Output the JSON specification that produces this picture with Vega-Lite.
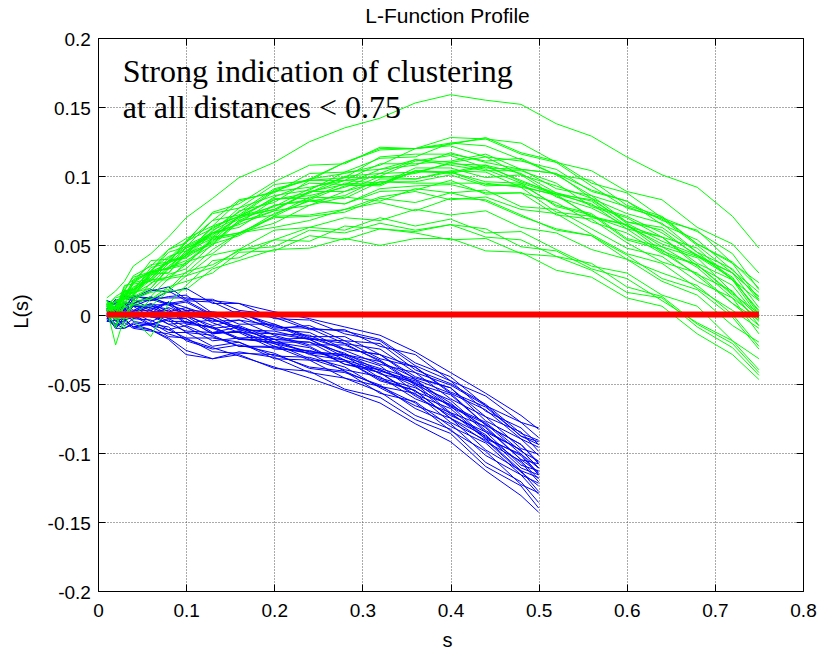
{
"$schema": "https://vega.github.io/schema/vega-lite/v6.json",
"width": 705,
"height": 553,
"autosize": {"type": "none"},
"padding": {"left": 98, "top": 38, "right": 17, "bottom": 58},
"background": "white",
"config": {"view": {"stroke": null}},
"datasets": {
"g": [
{"k":1,"s":0.01,"v":0.012},{"k":1,"s":0.02,"v":0.017},{"k":1,"s":0.03,"v":0.024},{"k":1,"s":0.04,"v":0.035},{"k":1,"s":0.06,"v":0.044},{"k":1,"s":0.08,"v":0.056},{"k":1,"s":0.1,"v":0.07},{"k":1,"s":0.13,"v":0.084},{"k":1,"s":0.16,"v":0.099},{"k":1,"s":0.2,"v":0.11},{"k":1,"s":0.24,"v":0.125},{"k":1,"s":0.28,"v":0.135},{"k":1,"s":0.32,"v":0.142},{"k":1,"s":0.36,"v":0.153},{"k":1,"s":0.4,"v":0.159},{"k":1,"s":0.44,"v":0.155},{"k":1,"s":0.48,"v":0.152},{"k":1,"s":0.52,"v":0.138},{"k":1,"s":0.56,"v":0.129},{"k":1,"s":0.6,"v":0.114},{"k":1,"s":0.64,"v":0.101},{"k":1,"s":0.68,"v":0.092},{"k":1,"s":0.72,"v":0.071},{"k":1,"s":0.75,"v":0.048},
{"k":2,"s":0.01,"v":0.01},{"k":2,"s":0.02,"v":0.004},{"k":2,"s":0.03,"v":0.021},{"k":2,"s":0.04,"v":0.022},{"k":2,"s":0.06,"v":0.039},{"k":2,"s":0.08,"v":0.04},{"k":2,"s":0.1,"v":0.053},{"k":2,"s":0.13,"v":0.073},{"k":2,"s":0.16,"v":0.077},{"k":2,"s":0.2,"v":0.094},{"k":2,"s":0.24,"v":0.097},{"k":2,"s":0.28,"v":0.11},{"k":2,"s":0.32,"v":0.12},{"k":2,"s":0.36,"v":0.12},{"k":2,"s":0.4,"v":0.123},{"k":2,"s":0.44,"v":0.128},{"k":2,"s":0.48,"v":0.117},{"k":2,"s":0.52,"v":0.111},{"k":2,"s":0.56,"v":0.095},{"k":2,"s":0.6,"v":0.088},{"k":2,"s":0.64,"v":0.07},{"k":2,"s":0.68,"v":0.06},{"k":2,"s":0.72,"v":0.044},{"k":2,"s":0.75,"v":0.018},
{"k":3,"s":0.01,"v":0.007},{"k":3,"s":0.02,"v":0.012},{"k":3,"s":0.03,"v":0.014},{"k":3,"s":0.04,"v":0.024},{"k":3,"s":0.06,"v":0.031},{"k":3,"s":0.08,"v":0.045},{"k":3,"s":0.1,"v":0.049},{"k":3,"s":0.13,"v":0.068},{"k":3,"s":0.16,"v":0.083},{"k":3,"s":0.2,"v":0.088},{"k":3,"s":0.24,"v":0.102},{"k":3,"s":0.28,"v":0.103},{"k":3,"s":0.32,"v":0.113},{"k":3,"s":0.36,"v":0.114},{"k":3,"s":0.4,"v":0.124},{"k":3,"s":0.44,"v":0.122},{"k":3,"s":0.48,"v":0.112},{"k":3,"s":0.52,"v":0.101},{"k":3,"s":0.56,"v":0.097},{"k":3,"s":0.6,"v":0.079},{"k":3,"s":0.64,"v":0.071},{"k":3,"s":0.68,"v":0.051},{"k":3,"s":0.72,"v":0.038},{"k":3,"s":0.75,"v":0.019},
{"k":4,"s":0.01,"v":0.01},{"k":4,"s":0.02,"v":0},{"k":4,"s":0.03,"v":0.018},{"k":4,"s":0.04,"v":0.027},{"k":4,"s":0.06,"v":0.031},{"k":4,"s":0.08,"v":0.037},{"k":4,"s":0.1,"v":0.053},{"k":4,"s":0.13,"v":0.062},{"k":4,"s":0.16,"v":0.074},{"k":4,"s":0.2,"v":0.091},{"k":4,"s":0.24,"v":0.097},{"k":4,"s":0.28,"v":0.099},{"k":4,"s":0.32,"v":0.114},{"k":4,"s":0.36,"v":0.116},{"k":4,"s":0.4,"v":0.116},{"k":4,"s":0.44,"v":0.111},{"k":4,"s":0.48,"v":0.113},{"k":4,"s":0.52,"v":0.101},{"k":4,"s":0.56,"v":0.086},{"k":4,"s":0.6,"v":0.078},{"k":4,"s":0.64,"v":0.069},{"k":4,"s":0.68,"v":0.05},{"k":4,"s":0.72,"v":0.03},{"k":4,"s":0.75,"v":0.013},
{"k":5,"s":0.01,"v":0.007},{"k":5,"s":0.02,"v":0.003},{"k":5,"s":0.03,"v":0.017},{"k":5,"s":0.04,"v":0.017},{"k":5,"s":0.06,"v":0.034},{"k":5,"s":0.08,"v":0.037},{"k":5,"s":0.1,"v":0.044},{"k":5,"s":0.13,"v":0.064},{"k":5,"s":0.16,"v":0.071},{"k":5,"s":0.2,"v":0.089},{"k":5,"s":0.24,"v":0.092},{"k":5,"s":0.28,"v":0.097},{"k":5,"s":0.32,"v":0.109},{"k":5,"s":0.36,"v":0.109},{"k":5,"s":0.4,"v":0.111},{"k":5,"s":0.44,"v":0.116},{"k":5,"s":0.48,"v":0.105},{"k":5,"s":0.52,"v":0.102},{"k":5,"s":0.56,"v":0.084},{"k":5,"s":0.6,"v":0.073},{"k":5,"s":0.64,"v":0.066},{"k":5,"s":0.68,"v":0.045},{"k":5,"s":0.72,"v":0.033},{"k":5,"s":0.75,"v":0.01},
{"k":6,"s":0.01,"v":0.005},{"k":6,"s":0.02,"v":0.009},{"k":6,"s":0.03,"v":0.011},{"k":6,"s":0.04,"v":0.023},{"k":6,"s":0.06,"v":0.026},{"k":6,"s":0.08,"v":0.041},{"k":6,"s":0.1,"v":0.048},{"k":6,"s":0.13,"v":0.057},{"k":6,"s":0.16,"v":0.075},{"k":6,"s":0.2,"v":0.081},{"k":6,"s":0.24,"v":0.097},{"k":6,"s":0.28,"v":0.097},{"k":6,"s":0.32,"v":0.1},{"k":6,"s":0.36,"v":0.111},{"k":6,"s":0.4,"v":0.115},{"k":6,"s":0.44,"v":0.106},{"k":6,"s":0.48,"v":0.105},{"k":6,"s":0.52,"v":0.091},{"k":6,"s":0.56,"v":0.086},{"k":6,"s":0.6,"v":0.067},{"k":6,"s":0.64,"v":0.063},{"k":6,"s":0.68,"v":0.045},{"k":6,"s":0.72,"v":0.025},{"k":6,"s":0.75,"v":0.01},
{"k":7,"s":0.01,"v":0.008},{"k":7,"s":0.02,"v":0},{"k":7,"s":0.03,"v":0.017},{"k":7,"s":0.04,"v":0.019},{"k":7,"s":0.06,"v":0.031},{"k":7,"s":0.08,"v":0.033},{"k":7,"s":0.1,"v":0.049},{"k":7,"s":0.13,"v":0.058},{"k":7,"s":0.16,"v":0.066},{"k":7,"s":0.2,"v":0.083},{"k":7,"s":0.24,"v":0.088},{"k":7,"s":0.28,"v":0.1},{"k":7,"s":0.32,"v":0.102},{"k":7,"s":0.36,"v":0.112},{"k":7,"s":0.4,"v":0.108},{"k":7,"s":0.44,"v":0.104},{"k":7,"s":0.48,"v":0.104},{"k":7,"s":0.52,"v":0.095},{"k":7,"s":0.56,"v":0.078},{"k":7,"s":0.6,"v":0.07},{"k":7,"s":0.64,"v":0.056},{"k":7,"s":0.68,"v":0.048},{"k":7,"s":0.72,"v":0.025},{"k":7,"s":0.75,"v":0.003},
{"k":8,"s":0.01,"v":0.003},{"k":8,"s":0.02,"v":0.01},{"k":8,"s":0.03,"v":0.011},{"k":8,"s":0.04,"v":0.014},{"k":8,"s":0.06,"v":0.029},{"k":8,"s":0.08,"v":0.039},{"k":8,"s":0.1,"v":0.042},{"k":8,"s":0.13,"v":0.061},{"k":8,"s":0.16,"v":0.07},{"k":8,"s":0.2,"v":0.076},{"k":8,"s":0.24,"v":0.088},{"k":8,"s":0.28,"v":0.097},{"k":8,"s":0.32,"v":0.095},{"k":8,"s":0.36,"v":0.103},{"k":8,"s":0.4,"v":0.109},{"k":8,"s":0.44,"v":0.108},{"k":8,"s":0.48,"v":0.096},{"k":8,"s":0.52,"v":0.088},{"k":8,"s":0.56,"v":0.082},{"k":8,"s":0.6,"v":0.064},{"k":8,"s":0.64,"v":0.051},{"k":8,"s":0.68,"v":0.042},{"k":8,"s":0.72,"v":0.026},{"k":8,"s":0.75,"v":0.002},
{"k":9,"s":0.01,"v":0.008},{"k":9,"s":0.02,"v":0.009},{"k":9,"s":0.03,"v":0.012},{"k":9,"s":0.04,"v":0.022},{"k":9,"s":0.06,"v":0.024},{"k":9,"s":0.08,"v":0.037},{"k":9,"s":0.1,"v":0.048},{"k":9,"s":0.13,"v":0.056},{"k":9,"s":0.16,"v":0.071},{"k":9,"s":0.2,"v":0.084},{"k":9,"s":0.24,"v":0.084},{"k":9,"s":0.28,"v":0.095},{"k":9,"s":0.32,"v":0.094},{"k":9,"s":0.36,"v":0.106},{"k":9,"s":0.4,"v":0.106},{"k":9,"s":0.44,"v":0.099},{"k":9,"s":0.48,"v":0.101},{"k":9,"s":0.52,"v":0.085},{"k":9,"s":0.56,"v":0.077},{"k":9,"s":0.6,"v":0.064},{"k":9,"s":0.64,"v":0.056},{"k":9,"s":0.68,"v":0.037},{"k":9,"s":0.72,"v":0.025},{"k":9,"s":0.75,"v":-0.002},
{"k":10,"s":0.01,"v":0.01},{"k":10,"s":0.02,"v":0},{"k":10,"s":0.03,"v":0.014},{"k":10,"s":0.04,"v":0.013},{"k":10,"s":0.06,"v":0.028},{"k":10,"s":0.08,"v":0.038},{"k":10,"s":0.1,"v":0.041},{"k":10,"s":0.13,"v":0.053},{"k":10,"s":0.16,"v":0.071},{"k":10,"s":0.2,"v":0.076},{"k":10,"s":0.24,"v":0.089},{"k":10,"s":0.28,"v":0.089},{"k":10,"s":0.32,"v":0.1},{"k":10,"s":0.36,"v":0.098},{"k":10,"s":0.4,"v":0.104},{"k":10,"s":0.44,"v":0.103},{"k":10,"s":0.48,"v":0.092},{"k":10,"s":0.52,"v":0.087},{"k":10,"s":0.56,"v":0.07},{"k":10,"s":0.6,"v":0.065},{"k":10,"s":0.64,"v":0.049},{"k":10,"s":0.68,"v":0.041},{"k":10,"s":0.72,"v":0.016},{"k":10,"s":0.75,"v":-0.002},
{"k":11,"s":0.01,"v":0.003},{"k":11,"s":0.02,"v":0.005},{"k":11,"s":0.03,"v":0.017},{"k":11,"s":0.04,"v":0.016},{"k":11,"s":0.06,"v":0.029},{"k":11,"s":0.08,"v":0.03},{"k":11,"s":0.1,"v":0.043},{"k":11,"s":0.13,"v":0.051},{"k":11,"s":0.16,"v":0.068},{"k":11,"s":0.2,"v":0.079},{"k":11,"s":0.24,"v":0.082},{"k":11,"s":0.28,"v":0.086},{"k":11,"s":0.32,"v":0.098},{"k":11,"s":0.36,"v":0.098},{"k":11,"s":0.4,"v":0.103},{"k":11,"s":0.44,"v":0.094},{"k":11,"s":0.48,"v":0.093},{"k":11,"s":0.52,"v":0.086},{"k":11,"s":0.56,"v":0.071},{"k":11,"s":0.6,"v":0.065},{"k":11,"s":0.64,"v":0.046},{"k":11,"s":0.68,"v":0.036},{"k":11,"s":0.72,"v":0.015},{"k":11,"s":0.75,"v":0.001},
{"k":12,"s":0.01,"v":0.004},{"k":12,"s":0.02,"v":0.006},{"k":12,"s":0.03,"v":0.012},{"k":12,"s":0.04,"v":0.014},{"k":12,"s":0.06,"v":0.03},{"k":12,"s":0.08,"v":0.034},{"k":12,"s":0.1,"v":0.039},{"k":12,"s":0.13,"v":0.05},{"k":12,"s":0.16,"v":0.067},{"k":12,"s":0.2,"v":0.075},{"k":12,"s":0.24,"v":0.079},{"k":12,"s":0.28,"v":0.089},{"k":12,"s":0.32,"v":0.096},{"k":12,"s":0.36,"v":0.095},{"k":12,"s":0.4,"v":0.095},{"k":12,"s":0.44,"v":0.095},{"k":12,"s":0.48,"v":0.092},{"k":12,"s":0.52,"v":0.074},{"k":12,"s":0.56,"v":0.071},{"k":12,"s":0.6,"v":0.062},{"k":12,"s":0.64,"v":0.045},{"k":12,"s":0.68,"v":0.029},{"k":12,"s":0.72,"v":0.017},{"k":12,"s":0.75,"v":-0.008},
{"k":13,"s":0.01,"v":0.003},{"k":13,"s":0.02,"v":-0.003},{"k":13,"s":0.03,"v":0.012},{"k":13,"s":0.04,"v":0.013},{"k":13,"s":0.06,"v":0.019},{"k":13,"s":0.08,"v":0.034},{"k":13,"s":0.1,"v":0.037},{"k":13,"s":0.13,"v":0.056},{"k":13,"s":0.16,"v":0.059},{"k":13,"s":0.2,"v":0.071},{"k":13,"s":0.24,"v":0.083},{"k":13,"s":0.28,"v":0.08},{"k":13,"s":0.32,"v":0.091},{"k":13,"s":0.36,"v":0.093},{"k":13,"s":0.4,"v":0.094},{"k":13,"s":0.44,"v":0.088},{"k":13,"s":0.48,"v":0.088},{"k":13,"s":0.52,"v":0.072},{"k":13,"s":0.56,"v":0.069},{"k":13,"s":0.6,"v":0.052},{"k":13,"s":0.64,"v":0.038},{"k":13,"s":0.68,"v":0.03},{"k":13,"s":0.72,"v":0.008},{"k":13,"s":0.75,"v":-0.004},
{"k":14,"s":0.01,"v":0.006},{"k":14,"s":0.02,"v":-0.003},{"k":14,"s":0.03,"v":0.012},{"k":14,"s":0.04,"v":0.016},{"k":14,"s":0.06,"v":0.019},{"k":14,"s":0.08,"v":0.033},{"k":14,"s":0.1,"v":0.036},{"k":14,"s":0.13,"v":0.055},{"k":14,"s":0.16,"v":0.059},{"k":14,"s":0.2,"v":0.066},{"k":14,"s":0.24,"v":0.079},{"k":14,"s":0.28,"v":0.085},{"k":14,"s":0.32,"v":0.082},{"k":14,"s":0.36,"v":0.091},{"k":14,"s":0.4,"v":0.088},{"k":14,"s":0.44,"v":0.09},{"k":14,"s":0.48,"v":0.078},{"k":14,"s":0.52,"v":0.076},{"k":14,"s":0.56,"v":0.062},{"k":14,"s":0.6,"v":0.048},{"k":14,"s":0.64,"v":0.042},{"k":14,"s":0.68,"v":0.024},{"k":14,"s":0.72,"v":0.012},{"k":14,"s":0.75,"v":-0.014},
{"k":15,"s":0.01,"v":0.006},{"k":15,"s":0.02,"v":-0.004},{"k":15,"s":0.03,"v":0.011},{"k":15,"s":0.04,"v":0.012},{"k":15,"s":0.06,"v":0.017},{"k":15,"s":0.08,"v":0.029},{"k":15,"s":0.1,"v":0.033},{"k":15,"s":0.13,"v":0.051},{"k":15,"s":0.16,"v":0.057},{"k":15,"s":0.2,"v":0.071},{"k":15,"s":0.24,"v":0.072},{"k":15,"s":0.28,"v":0.076},{"k":15,"s":0.32,"v":0.085},{"k":15,"s":0.36,"v":0.089},{"k":15,"s":0.4,"v":0.083},{"k":15,"s":0.44,"v":0.085},{"k":15,"s":0.48,"v":0.076},{"k":15,"s":0.52,"v":0.073},{"k":15,"s":0.56,"v":0.058},{"k":15,"s":0.6,"v":0.044},{"k":15,"s":0.64,"v":0.037},{"k":15,"s":0.68,"v":0.019},{"k":15,"s":0.72,"v":0.003},{"k":15,"s":0.75,"v":-0.01},
{"k":16,"s":0.01,"v":0.008},{"k":16,"s":0.02,"v":0},{"k":16,"s":0.03,"v":0.005},{"k":16,"s":0.04,"v":0.008},{"k":16,"s":0.06,"v":0.023},{"k":16,"s":0.08,"v":0.027},{"k":16,"s":0.1,"v":0.03},{"k":16,"s":0.13,"v":0.047},{"k":16,"s":0.16,"v":0.059},{"k":16,"s":0.2,"v":0.063},{"k":16,"s":0.24,"v":0.068},{"k":16,"s":0.28,"v":0.076},{"k":16,"s":0.32,"v":0.081},{"k":16,"s":0.36,"v":0.075},{"k":16,"s":0.4,"v":0.084},{"k":16,"s":0.44,"v":0.083},{"k":16,"s":0.48,"v":0.072},{"k":16,"s":0.52,"v":0.061},{"k":16,"s":0.56,"v":0.057},{"k":16,"s":0.6,"v":0.04},{"k":16,"s":0.64,"v":0.03},{"k":16,"s":0.68,"v":0.021},{"k":16,"s":0.72,"v":0},{"k":16,"s":0.75,"v":-0.023},
{"k":17,"s":0.01,"v":-0.001},{"k":17,"s":0.02,"v":-0.003},{"k":17,"s":0.03,"v":-0.01},{"k":17,"s":0.04,"v":0.011},{"k":17,"s":0.06,"v":0.016},{"k":17,"s":0.08,"v":0.018},{"k":17,"s":0.1,"v":0.031},{"k":17,"s":0.13,"v":0.036},{"k":17,"s":0.16,"v":0.046},{"k":17,"s":0.2,"v":0.054},{"k":17,"s":0.24,"v":0.063},{"k":17,"s":0.28,"v":0.061},{"k":17,"s":0.32,"v":0.07},{"k":17,"s":0.36,"v":0.064},{"k":17,"s":0.4,"v":0.069},{"k":17,"s":0.44,"v":0.059},{"k":17,"s":0.48,"v":0.06},{"k":17,"s":0.52,"v":0.047},{"k":17,"s":0.56,"v":0.035},{"k":17,"s":0.6,"v":0.03},{"k":17,"s":0.64,"v":0.014},{"k":17,"s":0.68,"v":0.006},{"k":17,"s":0.72,"v":-0.019},{"k":17,"s":0.75,"v":-0.032},
{"k":18,"s":0.01,"v":0.004},{"k":18,"s":0.02,"v":-0.01},{"k":18,"s":0.03,"v":0.007},{"k":18,"s":0.04,"v":-0.004},{"k":18,"s":0.06,"v":-0.016},{"k":18,"s":0.08,"v":0.008},{"k":18,"s":0.1,"v":0.021},{"k":18,"s":0.13,"v":0.039},{"k":18,"s":0.16,"v":0.041},{"k":18,"s":0.2,"v":0.054},{"k":18,"s":0.24,"v":0.053},{"k":18,"s":0.28,"v":0.064},{"k":18,"s":0.32,"v":0.062},{"k":18,"s":0.36,"v":0.06},{"k":18,"s":0.4,"v":0.065},{"k":18,"s":0.44,"v":0.062},{"k":18,"s":0.48,"v":0.049},{"k":18,"s":0.52,"v":0.046},{"k":18,"s":0.56,"v":0.033},{"k":18,"s":0.6,"v":0.026},{"k":18,"s":0.64,"v":0.01},{"k":18,"s":0.68,"v":-0.006},{"k":18,"s":0.72,"v":-0.019},{"k":18,"s":0.75,"v":-0.04},
{"k":19,"s":0.01,"v":-0.001},{"k":19,"s":0.02,"v":-0.002},{"k":19,"s":0.03,"v":-0.002},{"k":19,"s":0.04,"v":0.01},{"k":19,"s":0.06,"v":0.011},{"k":19,"s":0.08,"v":0.02},{"k":19,"s":0.1,"v":0.024},{"k":19,"s":0.13,"v":0.03},{"k":19,"s":0.16,"v":0.045},{"k":19,"s":0.2,"v":0.046},{"k":19,"s":0.24,"v":0.057},{"k":19,"s":0.28,"v":0.054},{"k":19,"s":0.32,"v":0.062},{"k":19,"s":0.36,"v":0.059},{"k":19,"s":0.4,"v":0.054},{"k":19,"s":0.44,"v":0.055},{"k":19,"s":0.48,"v":0.044},{"k":19,"s":0.52,"v":0.042},{"k":19,"s":0.56,"v":0.032},{"k":19,"s":0.6,"v":0.016},{"k":19,"s":0.64,"v":0.012},{"k":19,"s":0.68,"v":-0.009},{"k":19,"s":0.72,"v":-0.024},{"k":19,"s":0.75,"v":-0.044},
{"k":20,"s":0.01,"v":0.004},{"k":20,"s":0.02,"v":-0.022},{"k":20,"s":0.03,"v":-0.002},{"k":20,"s":0.04,"v":0.007},{"k":20,"s":0.06,"v":0.006},{"k":20,"s":0.08,"v":0.017},{"k":20,"s":0.1,"v":0.018},{"k":20,"s":0.13,"v":0.033},{"k":20,"s":0.16,"v":0.039},{"k":20,"s":0.2,"v":0.047},{"k":20,"s":0.24,"v":0.048},{"k":20,"s":0.28,"v":0.055},{"k":20,"s":0.32,"v":0.05},{"k":20,"s":0.36,"v":0.055},{"k":20,"s":0.4,"v":0.055},{"k":20,"s":0.44,"v":0.046},{"k":20,"s":0.48,"v":0.045},{"k":20,"s":0.52,"v":0.032},{"k":20,"s":0.56,"v":0.027},{"k":20,"s":0.6,"v":0.012},{"k":20,"s":0.64,"v":0.006},{"k":20,"s":0.68,"v":-0.014},{"k":20,"s":0.72,"v":-0.029},{"k":20,"s":0.75,"v":-0.047},
{"k":21,"s":0.01,"v":0.006},{"k":21,"s":0.02,"v":0.013},{"k":21,"s":0.03,"v":0.017},{"k":21,"s":0.04,"v":0.028},{"k":21,"s":0.06,"v":0.035},{"k":21,"s":0.08,"v":0.047},{"k":21,"s":0.1,"v":0.052},{"k":21,"s":0.13,"v":0.074},{"k":21,"s":0.16,"v":0.08},{"k":21,"s":0.2,"v":0.096},{"k":21,"s":0.24,"v":0.108},{"k":21,"s":0.28,"v":0.109},{"k":21,"s":0.32,"v":0.121},{"k":21,"s":0.36,"v":0.12},{"k":21,"s":0.4,"v":0.128},{"k":21,"s":0.44,"v":0.127},{"k":21,"s":0.48,"v":0.116},{"k":21,"s":0.52,"v":0.11},{"k":21,"s":0.56,"v":0.093},{"k":21,"s":0.6,"v":0.077},{"k":21,"s":0.64,"v":0.07},{"k":21,"s":0.68,"v":0.051},{"k":21,"s":0.72,"v":0.037},{"k":21,"s":0.75,"v":0.011},
{"k":22,"s":0.01,"v":0.01},{"k":22,"s":0.02,"v":0.003},{"k":22,"s":0.03,"v":0.02},{"k":22,"s":0.04,"v":0.025},{"k":22,"s":0.06,"v":0.031},{"k":22,"s":0.08,"v":0.047},{"k":22,"s":0.1,"v":0.055},{"k":22,"s":0.13,"v":0.064},{"k":22,"s":0.16,"v":0.082},{"k":22,"s":0.2,"v":0.089},{"k":22,"s":0.24,"v":0.098},{"k":22,"s":0.28,"v":0.11},{"k":22,"s":0.32,"v":0.119},{"k":22,"s":0.36,"v":0.12},{"k":22,"s":0.4,"v":0.124},{"k":22,"s":0.44,"v":0.127},{"k":22,"s":0.48,"v":0.124},{"k":22,"s":0.52,"v":0.11},{"k":22,"s":0.56,"v":0.104},{"k":22,"s":0.6,"v":0.089},{"k":22,"s":0.64,"v":0.083},{"k":22,"s":0.68,"v":0.063},{"k":22,"s":0.72,"v":0.051},{"k":22,"s":0.75,"v":0.03},
{"k":23,"s":0.01,"v":0.006},{"k":23,"s":0.02,"v":0.01},{"k":23,"s":0.03,"v":0.012},{"k":23,"s":0.04,"v":0.025},{"k":23,"s":0.06,"v":0.036},{"k":23,"s":0.08,"v":0.038},{"k":23,"s":0.1,"v":0.052},{"k":23,"s":0.13,"v":0.068},{"k":23,"s":0.16,"v":0.072},{"k":23,"s":0.2,"v":0.09},{"k":23,"s":0.24,"v":0.098},{"k":23,"s":0.28,"v":0.102},{"k":23,"s":0.32,"v":0.108},{"k":23,"s":0.36,"v":0.12},{"k":23,"s":0.4,"v":0.122},{"k":23,"s":0.44,"v":0.114},{"k":23,"s":0.48,"v":0.111},{"k":23,"s":0.52,"v":0.105},{"k":23,"s":0.56,"v":0.089},{"k":23,"s":0.6,"v":0.082},{"k":23,"s":0.64,"v":0.065},{"k":23,"s":0.68,"v":0.054},{"k":23,"s":0.72,"v":0.032},{"k":23,"s":0.75,"v":0.016},
{"k":24,"s":0.01,"v":0.01},{"k":24,"s":0.02,"v":0.004},{"k":24,"s":0.03,"v":0.017},{"k":24,"s":0.04,"v":0.018},{"k":24,"s":0.06,"v":0.032},{"k":24,"s":0.08,"v":0.042},{"k":24,"s":0.1,"v":0.046},{"k":24,"s":0.13,"v":0.06},{"k":24,"s":0.16,"v":0.077},{"k":24,"s":0.2,"v":0.086},{"k":24,"s":0.24,"v":0.09},{"k":24,"s":0.28,"v":0.103},{"k":24,"s":0.32,"v":0.105},{"k":24,"s":0.36,"v":0.112},{"k":24,"s":0.4,"v":0.11},{"k":24,"s":0.44,"v":0.114},{"k":24,"s":0.48,"v":0.101},{"k":24,"s":0.52,"v":0.093},{"k":24,"s":0.56,"v":0.084},{"k":24,"s":0.6,"v":0.066},{"k":24,"s":0.64,"v":0.053},{"k":24,"s":0.68,"v":0.043},{"k":24,"s":0.72,"v":0.027},{"k":24,"s":0.75,"v":0},
{"k":25,"s":0.01,"v":0.006},{"k":25,"s":0.02,"v":0.007},{"k":25,"s":0.03,"v":0.017},{"k":25,"s":0.04,"v":0.018},{"k":25,"s":0.06,"v":0.026},{"k":25,"s":0.08,"v":0.039},{"k":25,"s":0.1,"v":0.05},{"k":25,"s":0.13,"v":0.059},{"k":25,"s":0.16,"v":0.069},{"k":25,"s":0.2,"v":0.085},{"k":25,"s":0.24,"v":0.095},{"k":25,"s":0.28,"v":0.094},{"k":25,"s":0.32,"v":0.105},{"k":25,"s":0.36,"v":0.108},{"k":25,"s":0.4,"v":0.117},{"k":25,"s":0.44,"v":0.11},{"k":25,"s":0.48,"v":0.105},{"k":25,"s":0.52,"v":0.102},{"k":25,"s":0.56,"v":0.09},{"k":25,"s":0.6,"v":0.082},{"k":25,"s":0.64,"v":0.068},{"k":25,"s":0.68,"v":0.061},{"k":25,"s":0.72,"v":0.037},{"k":25,"s":0.75,"v":0.023},
{"k":26,"s":0.01,"v":0.01},{"k":26,"s":0.02,"v":0.001},{"k":26,"s":0.03,"v":0.011},{"k":26,"s":0.04,"v":0.023},{"k":26,"s":0.06,"v":0.031},{"k":26,"s":0.08,"v":0.033},{"k":26,"s":0.1,"v":0.043},{"k":26,"s":0.13,"v":0.063},{"k":26,"s":0.16,"v":0.071},{"k":26,"s":0.2,"v":0.078},{"k":26,"s":0.24,"v":0.091},{"k":26,"s":0.28,"v":0.099},{"k":26,"s":0.32,"v":0.099},{"k":26,"s":0.36,"v":0.102},{"k":26,"s":0.4,"v":0.11},{"k":26,"s":0.44,"v":0.105},{"k":26,"s":0.48,"v":0.095},{"k":26,"s":0.52,"v":0.087},{"k":26,"s":0.56,"v":0.08},{"k":26,"s":0.6,"v":0.062},{"k":26,"s":0.64,"v":0.056},{"k":26,"s":0.68,"v":0.035},{"k":26,"s":0.72,"v":0.021},{"k":26,"s":0.75,"v":-0.003},
{"k":27,"s":0.01,"v":0.004},{"k":27,"s":0.02,"v":0},{"k":27,"s":0.03,"v":0.016},{"k":27,"s":0.04,"v":0.016},{"k":27,"s":0.06,"v":0.031},{"k":27,"s":0.08,"v":0.033},{"k":27,"s":0.1,"v":0.046},{"k":27,"s":0.13,"v":0.055},{"k":27,"s":0.16,"v":0.071},{"k":27,"s":0.2,"v":0.083},{"k":27,"s":0.24,"v":0.086},{"k":27,"s":0.28,"v":0.092},{"k":27,"s":0.32,"v":0.102},{"k":27,"s":0.36,"v":0.103},{"k":27,"s":0.4,"v":0.103},{"k":27,"s":0.44,"v":0.108},{"k":27,"s":0.48,"v":0.102},{"k":27,"s":0.52,"v":0.088},{"k":27,"s":0.56,"v":0.079},{"k":27,"s":0.6,"v":0.071},{"k":27,"s":0.64,"v":0.059},{"k":27,"s":0.68,"v":0.043},{"k":27,"s":0.72,"v":0.03},{"k":27,"s":0.75,"v":0.005},
{"k":28,"s":0.01,"v":0.009},{"k":28,"s":0.02,"v":0.005},{"k":28,"s":0.03,"v":0.008},{"k":28,"s":0.04,"v":0.02},{"k":28,"s":0.06,"v":0.025},{"k":28,"s":0.08,"v":0.039},{"k":28,"s":0.1,"v":0.041},{"k":28,"s":0.13,"v":0.059},{"k":28,"s":0.16,"v":0.065},{"k":28,"s":0.2,"v":0.075},{"k":28,"s":0.24,"v":0.089},{"k":28,"s":0.28,"v":0.094},{"k":28,"s":0.32,"v":0.093},{"k":28,"s":0.36,"v":0.104},{"k":28,"s":0.4,"v":0.103},{"k":28,"s":0.44,"v":0.096},{"k":28,"s":0.48,"v":0.095},{"k":28,"s":0.52,"v":0.078},{"k":28,"s":0.56,"v":0.072},{"k":28,"s":0.6,"v":0.054},{"k":28,"s":0.64,"v":0.047},{"k":28,"s":0.68,"v":0.028},{"k":28,"s":0.72,"v":0.008},{"k":28,"s":0.75,"v":-0.008},
{"k":29,"s":0.01,"v":0.003},{"k":29,"s":0.02,"v":0.006},{"k":29,"s":0.03,"v":0.014},{"k":29,"s":0.04,"v":0.016},{"k":29,"s":0.06,"v":0.03},{"k":29,"s":0.08,"v":0.03},{"k":29,"s":0.1,"v":0.045},{"k":29,"s":0.13,"v":0.059},{"k":29,"s":0.16,"v":0.063},{"k":29,"s":0.2,"v":0.079},{"k":29,"s":0.24,"v":0.083},{"k":29,"s":0.28,"v":0.093},{"k":29,"s":0.32,"v":0.094},{"k":29,"s":0.36,"v":0.104},{"k":29,"s":0.4,"v":0.102},{"k":29,"s":0.44,"v":0.107},{"k":29,"s":0.48,"v":0.097},{"k":29,"s":0.52,"v":0.087},{"k":29,"s":0.56,"v":0.083},{"k":29,"s":0.6,"v":0.067},{"k":29,"s":0.64,"v":0.061},{"k":29,"s":0.68,"v":0.042},{"k":29,"s":0.72,"v":0.03},{"k":29,"s":0.75,"v":0.013},
{"k":30,"s":0.01,"v":0.007},{"k":30,"s":0.02,"v":-0.001},{"k":30,"s":0.03,"v":0.015},{"k":30,"s":0.04,"v":0.015},{"k":30,"s":0.06,"v":0.022},{"k":30,"s":0.08,"v":0.035},{"k":30,"s":0.1,"v":0.044},{"k":30,"s":0.13,"v":0.052},{"k":30,"s":0.16,"v":0.068},{"k":30,"s":0.2,"v":0.072},{"k":30,"s":0.24,"v":0.085},{"k":30,"s":0.28,"v":0.084},{"k":30,"s":0.32,"v":0.096},{"k":30,"s":0.36,"v":0.096},{"k":30,"s":0.4,"v":0.101},{"k":30,"s":0.44,"v":0.093},{"k":30,"s":0.48,"v":0.094},{"k":30,"s":0.52,"v":0.079},{"k":30,"s":0.56,"v":0.073},{"k":30,"s":0.6,"v":0.055},{"k":30,"s":0.64,"v":0.049},{"k":30,"s":0.68,"v":0.034},{"k":30,"s":0.72,"v":0.012},{"k":30,"s":0.75,"v":-0.003},
{"k":31,"s":0.01,"v":0.003},{"k":31,"s":0.02,"v":0.005},{"k":31,"s":0.03,"v":0.007},{"k":31,"s":0.04,"v":0.018},{"k":31,"s":0.06,"v":0.025},{"k":31,"s":0.08,"v":0.027},{"k":31,"s":0.1,"v":0.036},{"k":31,"s":0.13,"v":0.054},{"k":31,"s":0.16,"v":0.058},{"k":31,"s":0.2,"v":0.073},{"k":31,"s":0.24,"v":0.082},{"k":31,"s":0.28,"v":0.08},{"k":31,"s":0.32,"v":0.089},{"k":31,"s":0.36,"v":0.09},{"k":31,"s":0.4,"v":0.097},{"k":31,"s":0.44,"v":0.087},{"k":31,"s":0.48,"v":0.088},{"k":31,"s":0.52,"v":0.081},{"k":31,"s":0.56,"v":0.067},{"k":31,"s":0.6,"v":0.059},{"k":31,"s":0.64,"v":0.044},{"k":31,"s":0.68,"v":0.036},{"k":31,"s":0.72,"v":0.014},{"k":31,"s":0.75,"v":-0.005},
{"k":32,"s":0.01,"v":0.007},{"k":32,"s":0.02,"v":-0.003},{"k":32,"s":0.03,"v":0.005},{"k":32,"s":0.04,"v":0.015},{"k":32,"s":0.06,"v":0.025},{"k":32,"s":0.08,"v":0.025},{"k":32,"s":0.1,"v":0.038},{"k":32,"s":0.13,"v":0.044},{"k":32,"s":0.16,"v":0.059},{"k":32,"s":0.2,"v":0.07},{"k":32,"s":0.24,"v":0.071},{"k":32,"s":0.28,"v":0.074},{"k":32,"s":0.32,"v":0.084},{"k":32,"s":0.36,"v":0.081},{"k":32,"s":0.4,"v":0.088},{"k":32,"s":0.44,"v":0.082},{"k":32,"s":0.48,"v":0.071},{"k":32,"s":0.52,"v":0.062},{"k":32,"s":0.56,"v":0.057},{"k":32,"s":0.6,"v":0.043},{"k":32,"s":0.64,"v":0.026},{"k":32,"s":0.68,"v":0.018},{"k":32,"s":0.72,"v":-0.002},{"k":32,"s":0.75,"v":-0.025},
{"k":33,"s":0.01,"v":0},{"k":33,"s":0.02,"v":-0.008},{"k":33,"s":0.03,"v":0.009},{"k":33,"s":0.04,"v":0.007},{"k":33,"s":0.06,"v":0.013},{"k":33,"s":0.08,"v":0.026},{"k":33,"s":0.1,"v":0.028},{"k":33,"s":0.13,"v":0.043},{"k":33,"s":0.16,"v":0.047},{"k":33,"s":0.2,"v":0.061},{"k":33,"s":0.24,"v":0.063},{"k":33,"s":0.28,"v":0.07},{"k":33,"s":0.32,"v":0.068},{"k":33,"s":0.36,"v":0.076},{"k":33,"s":0.4,"v":0.072},{"k":33,"s":0.44,"v":0.075},{"k":33,"s":0.48,"v":0.063},{"k":33,"s":0.52,"v":0.059},{"k":33,"s":0.56,"v":0.047},{"k":33,"s":0.6,"v":0.04},{"k":33,"s":0.64,"v":0.024},{"k":33,"s":0.68,"v":0.014},{"k":33,"s":0.72,"v":-0.008},{"k":33,"s":0.75,"v":-0.02},
{"k":34,"s":0.01,"v":0.003},{"k":34,"s":0.02,"v":-0.002},{"k":34,"s":0.03,"v":-0.003},{"k":34,"s":0.04,"v":-0.001},{"k":34,"s":0.06,"v":0.011},{"k":34,"s":0.08,"v":0.017},{"k":34,"s":0.1,"v":0.028},{"k":34,"s":0.13,"v":0.034},{"k":34,"s":0.16,"v":0.047},{"k":34,"s":0.2,"v":0.049},{"k":34,"s":0.24,"v":0.061},{"k":34,"s":0.28,"v":0.059},{"k":34,"s":0.32,"v":0.066},{"k":34,"s":0.36,"v":0.061},{"k":34,"s":0.4,"v":0.065},{"k":34,"s":0.44,"v":0.056},{"k":34,"s":0.48,"v":0.054},{"k":34,"s":0.52,"v":0.042},{"k":34,"s":0.56,"v":0.037},{"k":34,"s":0.6,"v":0.02},{"k":34,"s":0.64,"v":0.013},{"k":34,"s":0.68,"v":-0.007},{"k":34,"s":0.72,"v":-0.021},{"k":34,"s":0.75,"v":-0.042}
],
"b": [
{"k":1,"s":0.01,"v":0.004},{"k":1,"s":0.02,"v":0.004},{"k":1,"s":0.03,"v":0.008},{"k":1,"s":0.04,"v":0.008},{"k":1,"s":0.06,"v":0.012},{"k":1,"s":0.08,"v":0.012},{"k":1,"s":0.1,"v":0.012},{"k":1,"s":0.13,"v":0.01},{"k":1,"s":0.16,"v":0.008},{"k":1,"s":0.2,"v":0.002},{"k":1,"s":0.24,"v":-0.003},{"k":1,"s":0.28,"v":-0.009},{"k":1,"s":0.32,"v":-0.015},{"k":1,"s":0.36,"v":-0.027},{"k":1,"s":0.4,"v":-0.042},{"k":1,"s":0.44,"v":-0.057},{"k":1,"s":0.48,"v":-0.073},{"k":1,"s":0.5,"v":-0.083},
{"k":2,"s":0.01,"v":0.01},{"k":2,"s":0.02,"v":0.008},{"k":2,"s":0.03,"v":0.014},{"k":2,"s":0.04,"v":0.011},{"k":2,"s":0.06,"v":0.017},{"k":2,"s":0.08,"v":0.02},{"k":2,"s":0.1,"v":0.011},{"k":2,"s":0.13,"v":0.011},{"k":2,"s":0.16,"v":0.003},{"k":2,"s":0.2,"v":0},{"k":2,"s":0.24,"v":-0.01},{"k":2,"s":0.28,"v":-0.012},{"k":2,"s":0.32,"v":-0.018},{"k":2,"s":0.36,"v":-0.035},{"k":2,"s":0.4,"v":-0.045},{"k":2,"s":0.44,"v":-0.066},{"k":2,"s":0.48,"v":-0.078},{"k":2,"s":0.5,"v":-0.089},
{"k":3,"s":0.01,"v":0.004},{"k":3,"s":0.02,"v":0.011},{"k":3,"s":0.03,"v":0.004},{"k":3,"s":0.04,"v":0.014},{"k":3,"s":0.06,"v":0.01},{"k":3,"s":0.08,"v":0.013},{"k":3,"s":0.1,"v":0.014},{"k":3,"s":0.13,"v":0.001},{"k":3,"s":0.16,"v":0.002},{"k":3,"s":0.2,"v":-0.01},{"k":3,"s":0.24,"v":-0.008},{"k":3,"s":0.28,"v":-0.019},{"k":3,"s":0.32,"v":-0.021},{"k":3,"s":0.36,"v":-0.04},{"k":3,"s":0.4,"v":-0.05},{"k":3,"s":0.44,"v":-0.065},{"k":3,"s":0.48,"v":-0.086},{"k":3,"s":0.5,"v":-0.091},
{"k":4,"s":0.01,"v":0.007},{"k":4,"s":0.02,"v":0.003},{"k":4,"s":0.03,"v":0.009},{"k":4,"s":0.04,"v":0.008},{"k":4,"s":0.06,"v":0.013},{"k":4,"s":0.08,"v":0.007},{"k":4,"s":0.1,"v":0.009},{"k":4,"s":0.13,"v":-0.001},{"k":4,"s":0.16,"v":0.001},{"k":4,"s":0.2,"v":-0.007},{"k":4,"s":0.24,"v":-0.016},{"k":4,"s":0.28,"v":-0.016},{"k":4,"s":0.32,"v":-0.029},{"k":4,"s":0.36,"v":-0.038},{"k":4,"s":0.4,"v":-0.057},{"k":4,"s":0.44,"v":-0.069},{"k":4,"s":0.48,"v":-0.09},{"k":4,"s":0.5,"v":-0.096},
{"k":5,"s":0.01,"v":0.003},{"k":5,"s":0.02,"v":0.009},{"k":5,"s":0.03,"v":0.003},{"k":5,"s":0.04,"v":0.011},{"k":5,"s":0.06,"v":0.004},{"k":5,"s":0.08,"v":0.009},{"k":5,"s":0.1,"v":0},{"k":5,"s":0.13,"v":0.001},{"k":5,"s":0.16,"v":-0.007},{"k":5,"s":0.2,"v":-0.007},{"k":5,"s":0.24,"v":-0.017},{"k":5,"s":0.28,"v":-0.025},{"k":5,"s":0.32,"v":-0.029},{"k":5,"s":0.36,"v":-0.045},{"k":5,"s":0.4,"v":-0.053},{"k":5,"s":0.44,"v":-0.077},{"k":5,"s":0.48,"v":-0.09},{"k":5,"s":0.5,"v":-0.102},
{"k":6,"s":0.01,"v":0.007},{"k":6,"s":0.02,"v":0.003},{"k":6,"s":0.03,"v":0.008},{"k":6,"s":0.04,"v":0.003},{"k":6,"s":0.06,"v":0.008},{"k":6,"s":0.08,"v":0.002},{"k":6,"s":0.1,"v":0.005},{"k":6,"s":0.13,"v":-0.001},{"k":6,"s":0.16,"v":-0.01},{"k":6,"s":0.2,"v":-0.014},{"k":6,"s":0.24,"v":-0.015},{"k":6,"s":0.28,"v":-0.026},{"k":6,"s":0.32,"v":-0.036},{"k":6,"s":0.36,"v":-0.042},{"k":6,"s":0.4,"v":-0.061},{"k":6,"s":0.44,"v":-0.074},{"k":6,"s":0.48,"v":-0.097},{"k":6,"s":0.5,"v":-0.101},
{"k":7,"s":0.01,"v":-0.001},{"k":7,"s":0.02,"v":0.006},{"k":7,"s":0.03,"v":0.002},{"k":7,"s":0.04,"v":0.007},{"k":7,"s":0.06,"v":0.001},{"k":7,"s":0.08,"v":0.009},{"k":7,"s":0.1,"v":-0.001},{"k":7,"s":0.13,"v":-0.008},{"k":7,"s":0.16,"v":-0.004},{"k":7,"s":0.2,"v":-0.015},{"k":7,"s":0.24,"v":-0.022},{"k":7,"s":0.28,"v":-0.022},{"k":7,"s":0.32,"v":-0.033},{"k":7,"s":0.36,"v":-0.05},{"k":7,"s":0.4,"v":-0.058},{"k":7,"s":0.44,"v":-0.08},{"k":7,"s":0.48,"v":-0.094},{"k":7,"s":0.5,"v":-0.108},
{"k":8,"s":0.01,"v":0.004},{"k":8,"s":0.02,"v":0.006},{"k":8,"s":0.03,"v":-0.001},{"k":8,"s":0.04,"v":0.006},{"k":8,"s":0.06,"v":0.005},{"k":8,"s":0.08,"v":0},{"k":8,"s":0.1,"v":0.003},{"k":8,"s":0.13,"v":-0.006},{"k":8,"s":0.16,"v":-0.013},{"k":8,"s":0.2,"v":-0.014},{"k":8,"s":0.24,"v":-0.018},{"k":8,"s":0.28,"v":-0.031},{"k":8,"s":0.32,"v":-0.039},{"k":8,"s":0.36,"v":-0.047},{"k":8,"s":0.4,"v":-0.066},{"k":8,"s":0.44,"v":-0.078},{"k":8,"s":0.48,"v":-0.099},{"k":8,"s":0.5,"v":-0.106},
{"k":9,"s":0.01,"v":0.001},{"k":9,"s":0.02,"v":-0.002},{"k":9,"s":0.03,"v":0.004},{"k":9,"s":0.04,"v":0.001},{"k":9,"s":0.06,"v":0.006},{"k":9,"s":0.08,"v":0.004},{"k":9,"s":0.1,"v":-0.006},{"k":9,"s":0.13,"v":-0.004},{"k":9,"s":0.16,"v":-0.009},{"k":9,"s":0.2,"v":-0.02},{"k":9,"s":0.24,"v":-0.02},{"k":9,"s":0.28,"v":-0.028},{"k":9,"s":0.32,"v":-0.041},{"k":9,"s":0.36,"v":-0.048},{"k":9,"s":0.4,"v":-0.064},{"k":9,"s":0.44,"v":-0.085},{"k":9,"s":0.48,"v":-0.098},{"k":9,"s":0.5,"v":-0.111},
{"k":10,"s":0.01,"v":0.004},{"k":10,"s":0.02,"v":-0.003},{"k":10,"s":0.03,"v":-0.001},{"k":10,"s":0.04,"v":0.006},{"k":10,"s":0.06,"v":-0.002},{"k":10,"s":0.08,"v":-0.002},{"k":10,"s":0.1,"v":-0.001},{"k":10,"s":0.13,"v":-0.013},{"k":10,"s":0.16,"v":-0.009},{"k":10,"s":0.2,"v":-0.02},{"k":10,"s":0.24,"v":-0.027},{"k":10,"s":0.28,"v":-0.029},{"k":10,"s":0.32,"v":-0.037},{"k":10,"s":0.36,"v":-0.056},{"k":10,"s":0.4,"v":-0.065},{"k":10,"s":0.44,"v":-0.082},{"k":10,"s":0.48,"v":-0.105},{"k":10,"s":0.5,"v":-0.108},
{"k":11,"s":0.01,"v":-0.001},{"k":11,"s":0.02,"v":0.002},{"k":11,"s":0.03,"v":0.003},{"k":11,"s":0.04,"v":-0.002},{"k":11,"s":0.06,"v":0.002},{"k":11,"s":0.08,"v":0.003},{"k":11,"s":0.1,"v":-0.007},{"k":11,"s":0.13,"v":-0.009},{"k":11,"s":0.16,"v":-0.017},{"k":11,"s":0.2,"v":-0.016},{"k":11,"s":0.24,"v":-0.023},{"k":11,"s":0.28,"v":-0.036},{"k":11,"s":0.32,"v":-0.04},{"k":11,"s":0.36,"v":-0.05},{"k":11,"s":0.4,"v":-0.071},{"k":11,"s":0.44,"v":-0.081},{"k":11,"s":0.48,"v":-0.105},{"k":11,"s":0.5,"v":-0.114},
{"k":12,"s":0.01,"v":0.002},{"k":12,"s":0.02,"v":0.002},{"k":12,"s":0.03,"v":-0.003},{"k":12,"s":0.04,"v":0.002},{"k":12,"s":0.06,"v":-0.005},{"k":12,"s":0.08,"v":0},{"k":12,"s":0.1,"v":-0.003},{"k":12,"s":0.13,"v":-0.014},{"k":12,"s":0.16,"v":-0.012},{"k":12,"s":0.2,"v":-0.023},{"k":12,"s":0.24,"v":-0.028},{"k":12,"s":0.28,"v":-0.03},{"k":12,"s":0.32,"v":-0.046},{"k":12,"s":0.36,"v":-0.053},{"k":12,"s":0.4,"v":-0.066},{"k":12,"s":0.44,"v":-0.089},{"k":12,"s":0.48,"v":-0.102},{"k":12,"s":0.5,"v":-0.116},
{"k":13,"s":0.01,"v":-0.003},{"k":13,"s":0.02,"v":0.002},{"k":13,"s":0.03,"v":0.001},{"k":13,"s":0.04,"v":-0.003},{"k":13,"s":0.06,"v":0.001},{"k":13,"s":0.08,"v":-0.007},{"k":13,"s":0.1,"v":-0.006},{"k":13,"s":0.13,"v":-0.009},{"k":13,"s":0.16,"v":-0.018},{"k":13,"s":0.2,"v":-0.02},{"k":13,"s":0.24,"v":-0.024},{"k":13,"s":0.28,"v":-0.036},{"k":13,"s":0.32,"v":-0.042},{"k":13,"s":0.36,"v":-0.059},{"k":13,"s":0.4,"v":-0.073},{"k":13,"s":0.44,"v":-0.085},{"k":13,"s":0.48,"v":-0.109},{"k":13,"s":0.5,"v":-0.113},
{"k":14,"s":0.01,"v":0.003},{"k":14,"s":0.02,"v":-0.005},{"k":14,"s":0.03,"v":-0.005},{"k":14,"s":0.04,"v":0.001},{"k":14,"s":0.06,"v":-0.001},{"k":14,"s":0.08,"v":-0.007},{"k":14,"s":0.1,"v":-0.012},{"k":14,"s":0.13,"v":-0.013},{"k":14,"s":0.16,"v":-0.013},{"k":14,"s":0.2,"v":-0.025},{"k":14,"s":0.24,"v":-0.026},{"k":14,"s":0.28,"v":-0.033},{"k":14,"s":0.32,"v":-0.048},{"k":14,"s":0.36,"v":-0.055},{"k":14,"s":0.4,"v":-0.075},{"k":14,"s":0.44,"v":-0.092},{"k":14,"s":0.48,"v":-0.106},{"k":14,"s":0.5,"v":-0.119},
{"k":15,"s":0.01,"v":-0.003},{"k":15,"s":0.02,"v":0},{"k":15,"s":0.03,"v":0.001},{"k":15,"s":0.04,"v":-0.005},{"k":15,"s":0.06,"v":-0.007},{"k":15,"s":0.08,"v":-0.003},{"k":15,"s":0.1,"v":-0.009},{"k":15,"s":0.13,"v":-0.019},{"k":15,"s":0.16,"v":-0.017},{"k":15,"s":0.2,"v":-0.021},{"k":15,"s":0.24,"v":-0.032},{"k":15,"s":0.28,"v":-0.04},{"k":15,"s":0.32,"v":-0.045},{"k":15,"s":0.36,"v":-0.061},{"k":15,"s":0.4,"v":-0.071},{"k":15,"s":0.44,"v":-0.09},{"k":15,"s":0.48,"v":-0.113},{"k":15,"s":0.5,"v":-0.118},
{"k":16,"s":0.01,"v":0.001},{"k":16,"s":0.02,"v":-0.009},{"k":16,"s":0.03,"v":-0.002},{"k":16,"s":0.04,"v":-0.001},{"k":16,"s":0.06,"v":-0.008},{"k":16,"s":0.08,"v":-0.011},{"k":16,"s":0.1,"v":-0.008},{"k":16,"s":0.13,"v":-0.016},{"k":16,"s":0.16,"v":-0.023},{"k":16,"s":0.2,"v":-0.024},{"k":16,"s":0.24,"v":-0.028},{"k":16,"s":0.28,"v":-0.041},{"k":16,"s":0.32,"v":-0.052},{"k":16,"s":0.36,"v":-0.057},{"k":16,"s":0.4,"v":-0.078},{"k":16,"s":0.44,"v":-0.091},{"k":16,"s":0.48,"v":-0.114},{"k":16,"s":0.5,"v":-0.124},
{"k":17,"s":0.01,"v":-0.005},{"k":17,"s":0.02,"v":-0.004},{"k":17,"s":0.03,"v":-0.008},{"k":17,"s":0.04,"v":-0.003},{"k":17,"s":0.06,"v":-0.004},{"k":17,"s":0.08,"v":-0.011},{"k":17,"s":0.1,"v":-0.017},{"k":17,"s":0.13,"v":-0.017},{"k":17,"s":0.16,"v":-0.02},{"k":17,"s":0.2,"v":-0.03},{"k":17,"s":0.24,"v":-0.031},{"k":17,"s":0.28,"v":-0.038},{"k":17,"s":0.32,"v":-0.053},{"k":17,"s":0.36,"v":-0.066},{"k":17,"s":0.4,"v":-0.075},{"k":17,"s":0.44,"v":-0.098},{"k":17,"s":0.48,"v":-0.113},{"k":17,"s":0.5,"v":-0.128},
{"k":18,"s":0.01,"v":-0.001},{"k":18,"s":0.02,"v":-0.01},{"k":18,"s":0.03,"v":-0.004},{"k":18,"s":0.04,"v":-0.009},{"k":18,"s":0.06,"v":-0.007},{"k":18,"s":0.08,"v":-0.009},{"k":18,"s":0.1,"v":-0.019},{"k":18,"s":0.13,"v":-0.025},{"k":18,"s":0.16,"v":-0.022},{"k":18,"s":0.2,"v":-0.028},{"k":18,"s":0.24,"v":-0.039},{"k":18,"s":0.28,"v":-0.042},{"k":18,"s":0.32,"v":-0.051},{"k":18,"s":0.36,"v":-0.068},{"k":18,"s":0.4,"v":-0.079},{"k":18,"s":0.44,"v":-0.102},{"k":18,"s":0.48,"v":-0.116},{"k":18,"s":0.5,"v":-0.13},
{"k":19,"s":0.01,"v":-0.003},{"k":19,"s":0.02,"v":-0.007},{"k":19,"s":0.03,"v":-0.01},{"k":19,"s":0.04,"v":-0.007},{"k":19,"s":0.06,"v":-0.011},{"k":19,"s":0.08,"v":-0.018},{"k":19,"s":0.1,"v":-0.029},{"k":19,"s":0.13,"v":-0.032},{"k":19,"s":0.16,"v":-0.027},{"k":19,"s":0.2,"v":-0.031},{"k":19,"s":0.24,"v":-0.042},{"k":19,"s":0.28,"v":-0.046},{"k":19,"s":0.32,"v":-0.056},{"k":19,"s":0.36,"v":-0.073},{"k":19,"s":0.4,"v":-0.083},{"k":19,"s":0.44,"v":-0.107},{"k":19,"s":0.48,"v":-0.121},{"k":19,"s":0.5,"v":-0.136},
{"k":20,"s":0.01,"v":-0.004},{"k":20,"s":0.02,"v":-0.008},{"k":20,"s":0.03,"v":-0.006},{"k":20,"s":0.04,"v":-0.01},{"k":20,"s":0.06,"v":-0.012},{"k":20,"s":0.08,"v":-0.014},{"k":20,"s":0.1,"v":-0.018},{"k":20,"s":0.13,"v":-0.024},{"k":20,"s":0.16,"v":-0.03},{"k":20,"s":0.2,"v":-0.038},{"k":20,"s":0.24,"v":-0.046},{"k":20,"s":0.28,"v":-0.055},{"k":20,"s":0.32,"v":-0.064},{"k":20,"s":0.36,"v":-0.079},{"k":20,"s":0.4,"v":-0.092},{"k":20,"s":0.44,"v":-0.113},{"k":20,"s":0.48,"v":-0.131},{"k":20,"s":0.5,"v":-0.143},
{"k":21,"s":0.01,"v":0.005},{"k":21,"s":0.02,"v":0.01},{"k":21,"s":0.03,"v":0.013},{"k":21,"s":0.04,"v":0.012},{"k":21,"s":0.06,"v":0.018},{"k":21,"s":0.08,"v":0.016},{"k":21,"s":0.1,"v":0.019},{"k":21,"s":0.13,"v":0.008},{"k":21,"s":0.16,"v":0.008},{"k":21,"s":0.2,"v":-0.003},{"k":21,"s":0.24,"v":-0.004},{"k":21,"s":0.28,"v":-0.014},{"k":21,"s":0.32,"v":-0.019},{"k":21,"s":0.36,"v":-0.037},{"k":21,"s":0.4,"v":-0.048},{"k":21,"s":0.44,"v":-0.07},{"k":21,"s":0.48,"v":-0.082},{"k":21,"s":0.5,"v":-0.094},
{"k":22,"s":0.01,"v":0.01},{"k":22,"s":0.02,"v":0.007},{"k":22,"s":0.03,"v":0.012},{"k":22,"s":0.04,"v":0.01},{"k":22,"s":0.06,"v":0.01},{"k":22,"s":0.08,"v":0.017},{"k":22,"s":0.1,"v":0.01},{"k":22,"s":0.13,"v":0.009},{"k":22,"s":0.16,"v":0},{"k":22,"s":0.2,"v":-0.002},{"k":22,"s":0.24,"v":-0.011},{"k":22,"s":0.28,"v":-0.011},{"k":22,"s":0.32,"v":-0.023},{"k":22,"s":0.36,"v":-0.029},{"k":22,"s":0.4,"v":-0.048},{"k":22,"s":0.44,"v":-0.059},{"k":22,"s":0.48,"v":-0.078},{"k":22,"s":0.5,"v":-0.082},
{"k":23,"s":0.01,"v":0.003},{"k":23,"s":0.02,"v":0.01},{"k":23,"s":0.03,"v":0.005},{"k":23,"s":0.04,"v":0.013},{"k":23,"s":0.06,"v":0.012},{"k":23,"s":0.08,"v":0.008},{"k":23,"s":0.1,"v":0.01},{"k":23,"s":0.13,"v":0},{"k":23,"s":0.16,"v":0.002},{"k":23,"s":0.2,"v":-0.009},{"k":23,"s":0.24,"v":-0.01},{"k":23,"s":0.28,"v":-0.021},{"k":23,"s":0.32,"v":-0.025},{"k":23,"s":0.36,"v":-0.042},{"k":23,"s":0.4,"v":-0.051},{"k":23,"s":0.44,"v":-0.066},{"k":23,"s":0.48,"v":-0.088},{"k":23,"s":0.5,"v":-0.094},
{"k":24,"s":0.01,"v":0.007},{"k":24,"s":0.02,"v":0.009},{"k":24,"s":0.03,"v":0.004},{"k":24,"s":0.04,"v":0.006},{"k":24,"s":0.06,"v":0.011},{"k":24,"s":0.08,"v":0.007},{"k":24,"s":0.1,"v":0.003},{"k":24,"s":0.13,"v":0.002},{"k":24,"s":0.16,"v":-0.001},{"k":24,"s":0.2,"v":-0.011},{"k":24,"s":0.24,"v":-0.013},{"k":24,"s":0.28,"v":-0.025},{"k":24,"s":0.32,"v":-0.029},{"k":24,"s":0.36,"v":-0.047},{"k":24,"s":0.4,"v":-0.057},{"k":24,"s":0.44,"v":-0.08},{"k":24,"s":0.48,"v":-0.094},{"k":24,"s":0.5,"v":-0.107},
{"k":25,"s":0.01,"v":0.002},{"k":25,"s":0.02,"v":0.002},{"k":25,"s":0.03,"v":0.007},{"k":25,"s":0.04,"v":0.008},{"k":25,"s":0.06,"v":0.003},{"k":25,"s":0.08,"v":0.009},{"k":25,"s":0.1,"v":0.005},{"k":25,"s":0.13,"v":-0.005},{"k":25,"s":0.16,"v":-0.004},{"k":25,"s":0.2,"v":-0.008},{"k":25,"s":0.24,"v":-0.018},{"k":25,"s":0.28,"v":-0.019},{"k":25,"s":0.32,"v":-0.032},{"k":25,"s":0.36,"v":-0.038},{"k":25,"s":0.4,"v":-0.056},{"k":25,"s":0.44,"v":-0.067},{"k":25,"s":0.48,"v":-0.088},{"k":25,"s":0.5,"v":-0.092},
{"k":26,"s":0.01,"v":0.006},{"k":26,"s":0.02,"v":0.002},{"k":26,"s":0.03,"v":0.005},{"k":26,"s":0.04,"v":0.002},{"k":26,"s":0.06,"v":0.007},{"k":26,"s":0.08,"v":0.007},{"k":26,"s":0.1,"v":-0.001},{"k":26,"s":0.13,"v":-0.003},{"k":26,"s":0.16,"v":-0.011},{"k":26,"s":0.2,"v":-0.012},{"k":26,"s":0.24,"v":-0.018},{"k":26,"s":0.28,"v":-0.029},{"k":26,"s":0.32,"v":-0.034},{"k":26,"s":0.36,"v":-0.051},{"k":26,"s":0.4,"v":-0.062},{"k":26,"s":0.44,"v":-0.084},{"k":26,"s":0.48,"v":-0.098},{"k":26,"s":0.5,"v":-0.111},
{"k":27,"s":0.01,"v":0},{"k":27,"s":0.02,"v":0.006},{"k":27,"s":0.03,"v":0},{"k":27,"s":0.04,"v":0.006},{"k":27,"s":0.06,"v":0.007},{"k":27,"s":0.08,"v":0},{"k":27,"s":0.1,"v":0.002},{"k":27,"s":0.13,"v":-0.003},{"k":27,"s":0.16,"v":-0.011},{"k":27,"s":0.2,"v":-0.018},{"k":27,"s":0.24,"v":-0.017},{"k":27,"s":0.28,"v":-0.021},{"k":27,"s":0.32,"v":-0.034},{"k":27,"s":0.36,"v":-0.046},{"k":27,"s":0.4,"v":-0.053},{"k":27,"s":0.44,"v":-0.074},{"k":27,"s":0.48,"v":-0.085},{"k":27,"s":0.5,"v":-0.099},
{"k":28,"s":0.01,"v":0.004},{"k":28,"s":0.02,"v":0},{"k":28,"s":0.03,"v":0.004},{"k":28,"s":0.04,"v":0},{"k":28,"s":0.06,"v":0},{"k":28,"s":0.08,"v":0.005},{"k":28,"s":0.1,"v":0},{"k":28,"s":0.13,"v":-0.01},{"k":28,"s":0.16,"v":-0.008},{"k":28,"s":0.2,"v":-0.018},{"k":28,"s":0.24,"v":-0.02},{"k":28,"s":0.28,"v":-0.033},{"k":28,"s":0.32,"v":-0.04},{"k":28,"s":0.36,"v":-0.052},{"k":28,"s":0.4,"v":-0.072},{"k":28,"s":0.44,"v":-0.087},{"k":28,"s":0.48,"v":-0.111},{"k":28,"s":0.5,"v":-0.116},
{"k":29,"s":0.01,"v":-0.001},{"k":29,"s":0.02,"v":0.003},{"k":29,"s":0.03,"v":-0.003},{"k":29,"s":0.04,"v":0.003},{"k":29,"s":0.06,"v":0.003},{"k":29,"s":0.08,"v":-0.003},{"k":29,"s":0.1,"v":-0.003},{"k":29,"s":0.13,"v":-0.014},{"k":29,"s":0.16,"v":-0.012},{"k":29,"s":0.2,"v":-0.021},{"k":29,"s":0.24,"v":-0.027},{"k":29,"s":0.28,"v":-0.029},{"k":29,"s":0.32,"v":-0.043},{"k":29,"s":0.36,"v":-0.049},{"k":29,"s":0.4,"v":-0.067},{"k":29,"s":0.44,"v":-0.079},{"k":29,"s":0.48,"v":-0.101},{"k":29,"s":0.5,"v":-0.111},
{"k":30,"s":0.01,"v":0.003},{"k":30,"s":0.02,"v":0.001},{"k":30,"s":0.03,"v":-0.004},{"k":30,"s":0.04,"v":-0.002},{"k":30,"s":0.06,"v":0.001},{"k":30,"s":0.08,"v":-0.005},{"k":30,"s":0.1,"v":-0.005},{"k":30,"s":0.13,"v":-0.01},{"k":30,"s":0.16,"v":-0.018},{"k":30,"s":0.2,"v":-0.018},{"k":30,"s":0.24,"v":-0.029},{"k":30,"s":0.28,"v":-0.033},{"k":30,"s":0.32,"v":-0.047},{"k":30,"s":0.36,"v":-0.055},{"k":30,"s":0.4,"v":-0.075},{"k":30,"s":0.44,"v":-0.088},{"k":30,"s":0.48,"v":-0.107},{"k":30,"s":0.5,"v":-0.121},
{"k":31,"s":0.01,"v":0},{"k":31,"s":0.02,"v":-0.007},{"k":31,"s":0.03,"v":-0.001},{"k":31,"s":0.04,"v":0},{"k":31,"s":0.06,"v":-0.007},{"k":31,"s":0.08,"v":-0.004},{"k":31,"s":0.1,"v":-0.013},{"k":31,"s":0.13,"v":-0.015},{"k":31,"s":0.16,"v":-0.023},{"k":31,"s":0.2,"v":-0.023},{"k":31,"s":0.24,"v":-0.033},{"k":31,"s":0.28,"v":-0.034},{"k":31,"s":0.32,"v":-0.042},{"k":31,"s":0.36,"v":-0.058},{"k":31,"s":0.4,"v":-0.068},{"k":31,"s":0.44,"v":-0.09},{"k":31,"s":0.48,"v":-0.101},{"k":31,"s":0.5,"v":-0.115},
{"k":32,"s":0.01,"v":-0.005},{"k":32,"s":0.02,"v":-0.004},{"k":32,"s":0.03,"v":-0.003},{"k":32,"s":0.04,"v":-0.009},{"k":32,"s":0.06,"v":-0.006},{"k":32,"s":0.08,"v":-0.013},{"k":32,"s":0.1,"v":-0.013},{"k":32,"s":0.13,"v":-0.023},{"k":32,"s":0.16,"v":-0.02},{"k":32,"s":0.2,"v":-0.032},{"k":32,"s":0.24,"v":-0.033},{"k":32,"s":0.28,"v":-0.046},{"k":32,"s":0.32,"v":-0.052},{"k":32,"s":0.36,"v":-0.064},{"k":32,"s":0.4,"v":-0.084},{"k":32,"s":0.44,"v":-0.099},{"k":32,"s":0.48,"v":-0.123},{"k":32,"s":0.5,"v":-0.129},
{"k":33,"s":0.01,"v":-0.001},{"k":33,"s":0.02,"v":-0.01},{"k":33,"s":0.03,"v":-0.01},{"k":33,"s":0.04,"v":-0.006},{"k":33,"s":0.06,"v":-0.008},{"k":33,"s":0.08,"v":-0.016},{"k":33,"s":0.1,"v":-0.017},{"k":33,"s":0.13,"v":-0.027},{"k":33,"s":0.16,"v":-0.028},{"k":33,"s":0.2,"v":-0.029},{"k":33,"s":0.24,"v":-0.038},{"k":33,"s":0.28,"v":-0.041},{"k":33,"s":0.32,"v":-0.057},{"k":33,"s":0.36,"v":-0.063},{"k":33,"s":0.4,"v":-0.081},{"k":33,"s":0.44,"v":-0.093},{"k":33,"s":0.48,"v":-0.116},{"k":33,"s":0.5,"v":-0.122},
{"k":34,"s":0.01,"v":-0.002},{"k":34,"s":0.02,"v":-0.008},{"k":34,"s":0.03,"v":-0.004},{"k":34,"s":0.04,"v":-0.009},{"k":34,"s":0.06,"v":-0.011},{"k":34,"s":0.08,"v":-0.017},{"k":34,"s":0.1,"v":-0.026},{"k":34,"s":0.13,"v":-0.032},{"k":34,"s":0.16,"v":-0.029},{"k":34,"s":0.2,"v":-0.039},{"k":34,"s":0.24,"v":-0.041},{"k":34,"s":0.28,"v":-0.054},{"k":34,"s":0.32,"v":-0.06},{"k":34,"s":0.36,"v":-0.076},{"k":34,"s":0.4,"v":-0.086},{"k":34,"s":0.44,"v":-0.11},{"k":34,"s":0.48,"v":-0.124},{"k":34,"s":0.5,"v":-0.14}
]
},
"layer": [
{
"data": {"name": "b"},
"mark": {"type": "line", "color": "#0000ff", "strokeWidth": 1},
"encoding": {
"x": {"field": "s", "type": "quantitative", "scale": {"domain": [0, 0.8], "nice": false, "zero": false},
"axis": {"orient": "bottom", "values": [0, 0.1, 0.2, 0.3, 0.4, 0.5, 0.6, 0.7, 0.8], "labelExpr": "'' + datum.value", "grid": true, "gridColor": "#555555", "gridDash": [1, 2], "gridWidth": 1, "gridOpacity": 1, "domainColor": "black", "domainWidth": 1, "tickColor": "black", "tickSize": -7, "tickWidth": 1, "labelFont": "Liberation Sans", "labelFontSize": 19, "labelColor": "black", "labelPadding": 17, "labelFlush": false, "labelOverlap": false, "labelBound": false, "title": "s", "titleFont": "Liberation Sans", "titleFontSize": 20, "titleFontWeight": "normal", "titleColor": "black", "titleX": 349, "titleY": 55, "titleAlign": "center", "titleBaseline": "alphabetic"}},
"y": {"field": "v", "type": "quantitative", "scale": {"domain": [-0.2, 0.2], "nice": false, "zero": false},
"axis": {"orient": "left", "values": [-0.2, -0.15, -0.1, -0.05, 0, 0.05, 0.1, 0.15, 0.2], "labelExpr": "datum.value < 0 ? '-' + (-datum.value) : '' + datum.value", "grid": true, "gridColor": "#555555", "gridDash": [1, 2], "gridWidth": 1, "gridOpacity": 1, "domainColor": "black", "domainWidth": 1, "tickColor": "black", "tickSize": -7, "tickWidth": 1, "labelFont": "Liberation Sans", "labelFontSize": 19, "labelColor": "black", "labelPadding": 14.6, "labelBaseline": "alphabetic", "labelOffset": 7.5, "labelFlush": false, "labelOverlap": false, "labelBound": false, "title": "L(s)", "titleFont": "Liberation Sans", "titleFontSize": 20, "titleFontWeight": "normal", "titleColor": "black", "titleX": -77, "titleY": 273, "titleAngle": -90, "titleAlign": "center", "titleBaseline": "middle"}},
"detail": {"field": "k", "type": "nominal"}
}
},
{
"data": {"name": "g"},
"mark": {"type": "line", "color": "#00ff00", "strokeWidth": 1},
"encoding": {
"x": {"field": "s", "type": "quantitative", "scale": {"domain": [0, 0.8], "nice": false, "zero": false},
"axis": {"orient": "top", "values": [0, 0.1, 0.2, 0.3, 0.4, 0.5, 0.6, 0.7, 0.8], "labels": false, "grid": false, "domainColor": "black", "domainWidth": 1, "tickColor": "black", "tickSize": -7, "tickWidth": 1, "title": "L-Function Profile", "titleFont": "Liberation Sans", "titleFontSize": 21, "titleFontWeight": "normal", "titleColor": "black", "titleX": 349, "titleY": -16, "titleAlign": "center", "titleBaseline": "alphabetic"}},
"y": {"field": "v", "type": "quantitative", "scale": {"domain": [-0.2, 0.2], "nice": false, "zero": false},
"axis": {"orient": "right", "values": [-0.2, -0.15, -0.1, -0.05, 0, 0.05, 0.1, 0.15, 0.2], "labels": false, "grid": false, "domainColor": "black", "domainWidth": 1, "tickColor": "black", "tickSize": -7, "tickWidth": 1, "title": null}},
"detail": {"field": "k", "type": "nominal"}
}
},
{
"data": {"values": [{"s": 0.01, "v": 0}, {"s": 0.75, "v": 0}]},
"mark": {"type": "line", "color": "#ff0000", "strokeWidth": 6, "strokeCap": "butt"},
"encoding": {
"x": {"field": "s", "type": "quantitative", "scale": {"domain": [0, 0.8], "nice": false, "zero": false}, "axis": null},
"y": {"field": "v", "type": "quantitative", "scale": {"domain": [-0.2, 0.2], "nice": false, "zero": false}, "axis": null}
}
},
{
"data": {"values": [{"s": 0.028, "v": 0.168, "t": "Strong indication of clustering"}, {"s": 0.028, "v": 0.142, "t": "at all distances < 0.75"}]},
"mark": {"type": "text", "font": "Liberation Serif", "fontSize": 32, "align": "left", "baseline": "alphabetic", "color": "black"},
"encoding": {
"x": {"field": "s", "type": "quantitative", "scale": {"domain": [0, 0.8], "nice": false, "zero": false}, "axis": null},
"y": {"field": "v", "type": "quantitative", "scale": {"domain": [-0.2, 0.2], "nice": false, "zero": false}, "axis": null},
"text": {"field": "t", "type": "nominal"}
}
}
],
"resolve": {"axis": {"x": "independent", "y": "independent"}}
}
